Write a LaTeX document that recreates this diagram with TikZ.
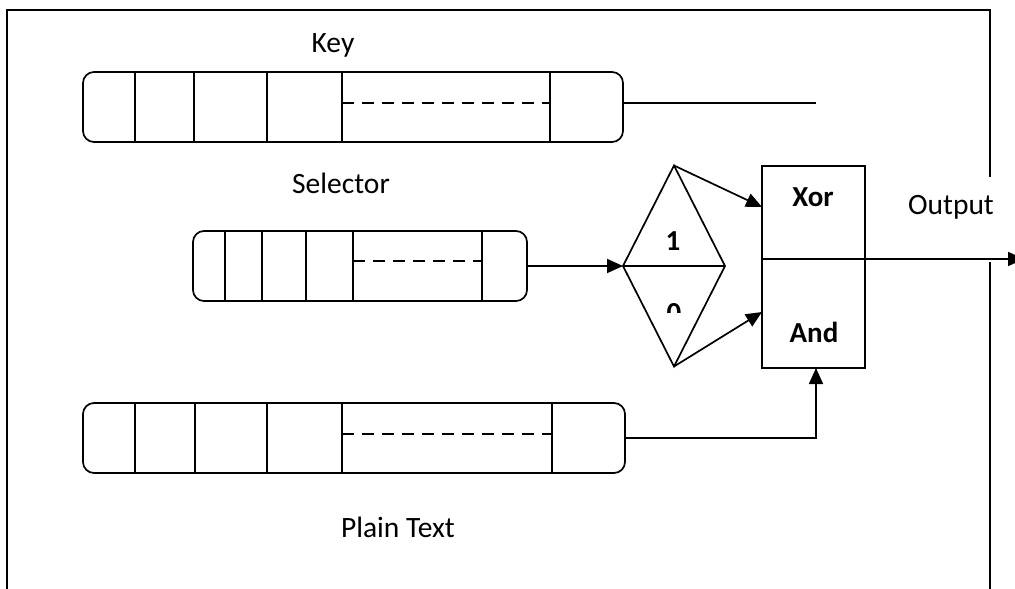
\documentclass[tikz,border=0pt]{standalone}
\usepackage{fontspec}
\setmainfont{Carlito}
\usetikzlibrary{arrows.meta,shapes.geometric}
\begin{document}
\begin{tikzpicture}[x=1pt,y=-1pt,line width=1.7pt,
  every node/.style={inner sep=0pt,outer sep=0pt},
  reg/.style={draw,rounded corners=11pt,minimum height=70pt},
  lbl/.style={font=\fontsize{29.5}{35}\selectfont},
  blbl/.style={font=\fontsize{29}{35}\selectfont\bfseries},
  dsh/.style={dash pattern=on 12pt off 8pt},
  arr/.style={-{Triangle[length=16pt,width=14pt]}}]
\useasboundingbox (0,0) rectangle (1015,589);
% frame
\draw (7,589) -- (7,10) -- (990,10) -- (990,177);
\draw (990,262) -- (990,589);
% key register
\node[reg,minimum width=540pt] (key) at (353,107) {};
\foreach \x in {135,194,267,342,550} \draw (\x,72) -- (\x,142);
\draw[dsh] (342,103) -- (550,103);
\node[lbl] (keyl) at (333,45) {Key};
\coordinate (keyend) at (816,103);
\draw (key.east |- keyend) -- (keyend);
% selector register
\node[reg,minimum width=334pt] (sel) at (360,266) {};
\foreach \x in {225,262,306,353,482} \draw (\x,231) -- (\x,301);
\draw[dsh] (353,261) -- (482,261);
\node[lbl] (sell) at (341,183) {Selector};
% plain text register
\node[reg,minimum width=542pt] (pt) at (354,438) {};
\foreach \x in {135,195,267,342,552} \draw (\x,403) -- (\x,473);
\draw[dsh] (342,434) -- (552,434);
\node[lbl] (ptl) at (398,527) {Plain Text};
% diamond
\node[draw,diamond,aspect=0.5,minimum width=102pt,minimum height=201pt,inner sep=0pt] (dia) at (674,266) {};
\draw (dia.west) -- (dia.east);
\node[blbl] (one) at (673,241) {1};
\begin{scope}
\clip (620,280) rectangle (730,312);
\node[blbl] (zero) at (674,313) {0};
\end{scope}
% gate box
\node[draw,minimum width=103pt,minimum height=202pt] (box) at (813.5,267) {};
\draw (box.west |- 0,259) -- (box.east |- 0,259);
\node[blbl] (xor) at (813,197) {Xor};
\node[blbl] (and) at (814,332) {And};
\node[lbl] (outl) at (951,207) {Output};
% connectors
\draw[arr] (sel.east) -- (dia.west);
\coordinate (xin) at (762,207);
\coordinate (ain) at (762,312);
\draw[arr] (dia.north) -- (xin);
\draw[arr] (dia.south) -- (ain);
\draw[arr] (pt.east) -| (box.south -| 816,0);
\coordinate (outend) at (1024,259);
\draw[arr] (box.east |- 0,259) -- (outend);
\end{tikzpicture}
\end{document}
